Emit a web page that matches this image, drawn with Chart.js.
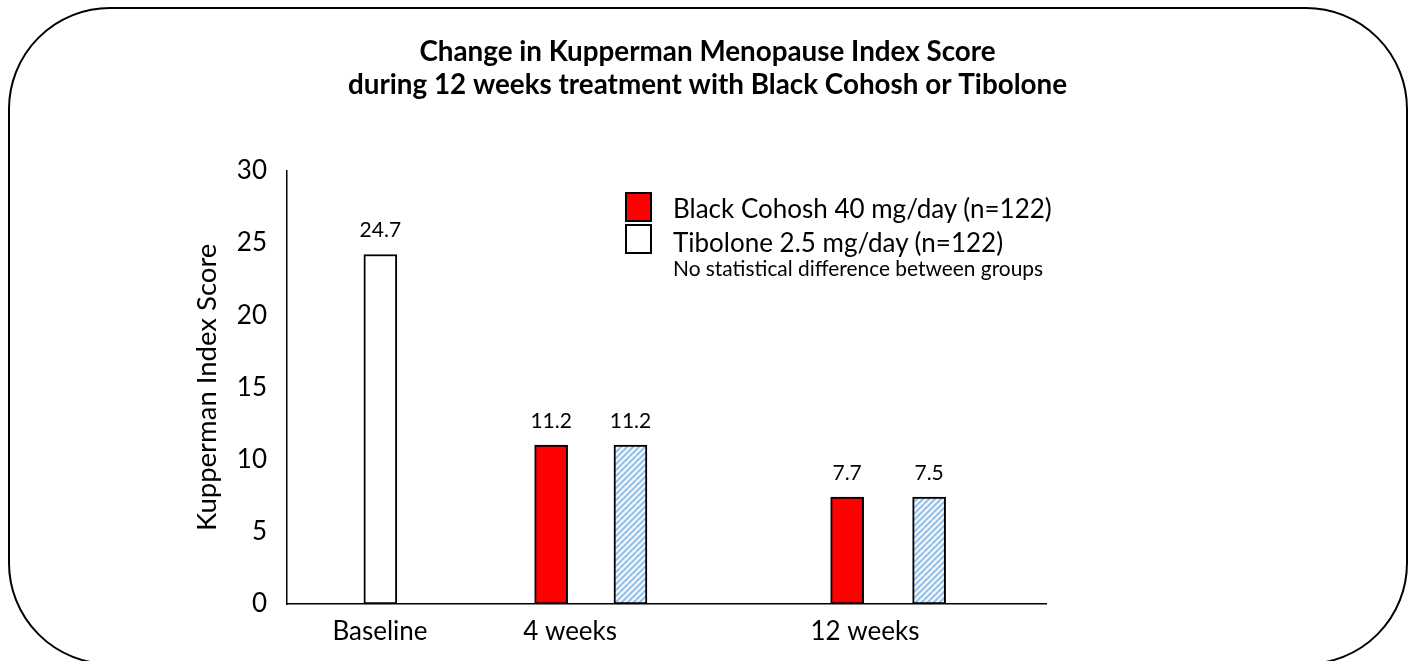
<!DOCTYPE html>
<html>
<head>
<meta charset="utf-8">
<title>Kupperman Menopause Index</title>
<script src="https://cdn.jsdelivr.net/npm/chart.js@4.4.0/dist/chart.umd.min.js"></script>
<style>
    html, body { margin: 0; padding: 0; background: #fff; }
    body { width: 1415px; height: 661px; position: relative; overflow: hidden; font-family: Lato, sans-serif; }
    #wrap { position: absolute; left: 0; top: 0; width: 1415px; height: 661px; }
    #frame {
        position: absolute; left: 8px; top: 7px; width: 1400px; height: 658px;
        box-sizing: border-box; border: 2px solid #000; border-radius: 102px;
        pointer-events: none;
    }
    .key { position: absolute; width: 27px; height: 30px; box-sizing: border-box; border: 2px solid #000; }
    .keyText { position: absolute; left: 673px; font-size: 26px; line-height: 30px; color: #000; white-space: nowrap; }
    #note { position: absolute; left: 673px; top: 255px; font-size: 20.9px; line-height: 26px; color: #000; white-space: nowrap; }
</style>
</head>
<body>
<div id="wrap"><canvas id="kmiChart"></canvas></div>
<div id="frame"></div>
<div id="legend"></div>
<div id="note">No statistical difference between groups</div>
<script>
// x values are on a 0-100 scale along the axis; y values are the bar heights
const categories = ['Baseline', '4 weeks', '12 weeks'];
const categoryAt = [12.25, 37.3, 76.15];

const baselineAt = [12.3];
const baselineScore = [24.2];
const baselineLabel = ['24.7'];

const cohoshAt = [34.8, 73.8];
const cohoshScore = [11.0, 7.4];
const cohoshLabel = ['11.2', '7.7'];

const tiboloneAt = [45.25, 84.6];
const tiboloneScore = [11.0, 7.4];
const tiboloneLabel = ['11.2', '7.5'];

const seriesNames = ['Black Cohosh 40 mg/day (n=122)', 'Tibolone 2.5 mg/day (n=122)'];

function toPoints(xs, ys) {
    return xs.map((x, i) => ({ x: x, y: ys[i] }));
}

// light blue diagonal hatch used for the tibolone bars
function hatch(color) {
    const c = document.createElement('canvas');
    c.width = 6; c.height = 6;
    const g = c.getContext('2d');
    g.fillStyle = '#fff';
    g.fillRect(0, 0, 6, 6);
    g.strokeStyle = color;
    g.lineWidth = 2.4;
    g.beginPath();
    g.moveTo(-1, 7); g.lineTo(7, -1);
    g.moveTo(-1, 1); g.lineTo(1, -1);
    g.moveTo(5, 7); g.lineTo(7, 5);
    g.stroke();
    return g.createPattern(c, 'repeat');
}

// values printed above each bar
const barLabels = {
    id: 'barLabels',
    afterDatasetsDraw(chart) {
        const ctx = chart.ctx;
        ctx.save();
        ctx.font = '21px Lato';
        ctx.fillStyle = '#000';
        ctx.textAlign = 'center';
        ctx.textBaseline = 'middle';
        chart.data.datasets.forEach((ds, i) => {
            chart.getDatasetMeta(i).data.forEach((bar, j) => {
                ctx.fillText(ds.valueLabels[j], bar.x, bar.y - 24);
            });
        });
        ctx.restore();
    }
};

document.addEventListener('DOMContentLoaded', function() {
    // legend boxes (the picture shows tibolone as a plain white box)
    const legend = document.getElementById('legend');
    const keyColors = ['#ff0000', '#ffffff'];
    seriesNames.forEach((name, i) => {
        const box = document.createElement('div');
        box.className = 'key';
        box.style.left = '625px';
        box.style.top = (192 + i * 32) + 'px';
        box.style.background = keyColors[i];
        legend.appendChild(box);
        const txt = document.createElement('div');
        txt.className = 'keyText';
        txt.style.top = (193 + i * 34) + 'px';
        txt.textContent = name;
        legend.appendChild(txt);
    });

    const ctx = document.getElementById('kmiChart').getContext('2d');
    new Chart(ctx, {
        type: 'bar',
        data: {
            datasets: [{
                label: 'Baseline',
                data: toPoints(baselineAt, baselineScore),
                valueLabels: baselineLabel,
                backgroundColor: '#ffffff',
                borderColor: '#000',
                borderWidth: 2,
                borderSkipped: false,
                barThickness: 33,
                grouped: false
            }, {
                label: seriesNames[0],
                data: toPoints(cohoshAt, cohoshScore),
                valueLabels: cohoshLabel,
                backgroundColor: '#ff0000',
                borderColor: '#000',
                borderWidth: 2,
                borderSkipped: false,
                barThickness: 33,
                grouped: false
            }, {
                label: seriesNames[1],
                data: toPoints(tiboloneAt, tiboloneScore),
                valueLabels: tiboloneLabel,
                backgroundColor: hatch('#9dc3e6'),
                borderColor: '#000',
                borderWidth: 2,
                borderSkipped: false,
                barThickness: 33,
                grouped: false
            }]
        },
        options: {
            responsive: true,
            maintainAspectRatio: false,
            animation: false,
            layout: { padding: 0 },
            plugins: {
                legend: { display: false },
                tooltip: { enabled: false },
                title: {
                    display: true,
                    text: ['Change in Kupperman Menopause Index Score',
                           'during 12 weeks treatment with Black Cohosh or Tibolone'],
                    color: '#000',
                    font: { family: 'Lato', size: 27.8, weight: 'bold', lineHeight: 1.2 },
                    padding: { top: 35, bottom: 69 }
                }
            },
            scales: {
                x: {
                    type: 'linear',
                    min: 0,
                    max: 100,
                    offset: false,
                    grid: { display: false, drawTicks: false },
                    border: { display: true, color: '#000', width: 1.5 },
                    afterBuildTicks(scale) {
                        scale.ticks = categoryAt.map(v => ({ value: v }));
                    },
                    afterFit(scale) { scale.height = 57; },
                    ticks: {
                        color: '#000',
                        font: { family: 'Lato', size: 26 },
                        padding: 12,
                        maxRotation: 0,
                        autoSkip: false,
                        callback: (v, i) => categories[i]
                    }
                },
                y: {
                    min: 0,
                    max: 30,
                    grid: { display: false, drawTicks: false },
                    border: { display: true, color: '#000', width: 1.5 },
                    afterFit(scale) { scale.width = 287; },
                    ticks: {
                        stepSize: 5,
                        color: '#000',
                        font: { family: 'Lato', size: 26 },
                        padding: 20
                    },
                    title: {
                        display: true,
                        text: 'Kupperman Index Score',
                        color: '#000',
                        font: { family: 'Lato', size: 27.5 },
                        padding: { top: 191 }
                    }
                },
                yRight: {
                    position: 'right',
                    min: 0,
                    max: 30,
                    grid: { display: false },
                    border: { display: false },
                    ticks: { display: false },
                    afterFit(scale) { scale.width = 369; }
                }
            }
        },
        plugins: [barLabels]
    });
});
</script>
</body>
</html>
